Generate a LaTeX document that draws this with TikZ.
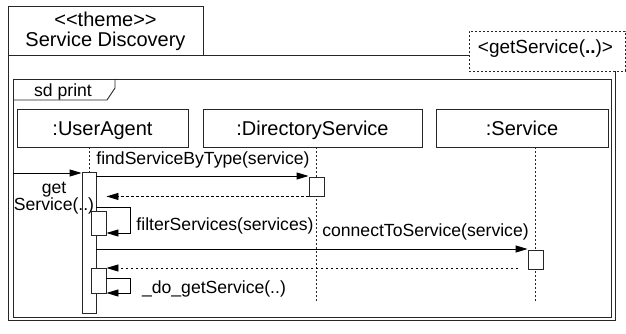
\documentclass[tikz,border=0pt]{standalone}
\usepackage{fontspec}
\setmainfont{Liberation Sans}
\usetikzlibrary{arrows.meta}
\begin{document}
\begin{tikzpicture}[x=1pt,y=-1pt,
  frame/.style={draw=black!85, line width=0.9pt},
  headbox/.style={draw=black!85, line width=0.9pt, fill=white, inner sep=0pt,
    minimum height=38pt, text height=19pt, text depth=4pt,
    font=\fontsize{20}{22}\selectfont},
  actbar/.style={draw=black!85, line width=0.9pt, fill=white, inner sep=0pt},
  lifeline/.style={draw=black!85, line width=0.8pt, dash pattern=on 2pt off 2pt},
  msg/.style={draw=black, line width=0.9pt, -{Triangle[length=12pt,width=7pt]}},
  ret/.style={msg, dash pattern=on 2.5pt off 2.5pt},
  lbl/.style={inner sep=0pt, anchor=base, font=\fontsize{17.6}{19}\selectfont},
  ttl/.style={inner sep=0pt, anchor=base, font=\fontsize{20}{22}\selectfont},
]
\useasboundingbox (0,0) rectangle (626,334);

% theme package frame with its tab
\draw[frame] (8,55) -- (8,6) -- (203,6) -- (203,55);
\draw[frame] (8,55) -- (469,55);
\draw[frame] (8,55) -- (8,320) -- (615.5,320) -- (615.5,71);
\node[ttl] (theme) at (105.5,27) {<\kern0pt<theme>\kern0pt>};
\node[ttl] (pkgname) at (105.5,47) {Service Discovery};

% template parameter box
\node[draw=black!85, line width=0.8pt, dash pattern=on 2pt off 2pt, fill=white,
  inner sep=0pt, minimum width=156pt, minimum height=40pt, anchor=north west]
  (param) at (469,31) {};
\node[inner sep=0pt, anchor=base, font=\fontsize{19}{21}\selectfont] (paramtxt)
  at (545.5,54) {<getService(\textbf{..})>};

% interaction frame
\draw[frame] (13,79) rectangle (611,317);
\draw[frame] (13,100) -- (107,100) -- (115,88) -- (115,79);
\node[lbl] (sd) at (63,96.5) {sd print};

% lifeline heads
\node[headbox, minimum width=171pt] (ua) at (102.5,128) {:UserAgent};
\node[headbox, minimum width=219pt] (ds) at (312.5,128) {:DirectoryService};
\node[headbox, minimum width=172pt] (sv) at (522,128) {:Service};

% activations
\node[actbar, minimum width=14pt, minimum height=141pt] (act0) at (89,242.5) {};
\node[actbar, minimum width=15pt, minimum height=24pt] (act1) at (98.5,223) {};
\node[actbar, minimum width=15pt, minimum height=25pt] (act2) at (98.5,280.5) {};

% lifelines
\coordinate (dsend) at (316.5,303);
\coordinate (svend) at (535.5,303);
\draw[lifeline] (act0.north |- ua.south) -- (act0.north);
\draw[lifeline] (dsend |- ds.south) -- (dsend);
\draw[lifeline] (svend |- sv.south) -- (svend);

\node[actbar, minimum width=15pt, minimum height=19pt] (dsact) at (316.5,186.5) {};
\node[actbar, minimum width=15pt, minimum height=19pt] (svact) at (535.5,259.5) {};

% message levels
\coordinate (gate) at (13,173);
\coordinate (m1) at (0,176);
\coordinate (s1a) at (130,207);
\coordinate (s1b) at (130,233);
\coordinate (m2) at (0,249);
\coordinate (r2) at (518,268);
\coordinate (s2a) at (130,278);
\coordinate (s2b) at (130,293);

% messages
\draw[msg] (gate) -- (act0.west |- gate);
\draw[msg] (act0.east |- m1) -- (dsact.west |- m1);
\draw[ret] (dsact.south west) -- (act1.east |- dsact.south);
\draw[msg] (act0.east |- s1a) -- (s1a) -- (s1b) -- (act1.east |- s1b);
\draw[msg] (act0.east |- m2) -- (svact.west |- m2);
\draw[ret] (r2) -- (act2.east |- r2);
\draw[msg] (act2.east |- s2a) -- (s2a) -- (s2b) -- (act2.east |- s2b);

% message labels
\node[lbl] (gl1) at (54,193.5) {get};
\node[lbl] (gl2) at (54,210.5) {Service(..)};
\node[lbl] (l1) at (203,164.5) {findServiceByType(service)};
\node[lbl] (l2) at (225,230) {filterServices(services)};
\node[lbl] (l3) at (425.5,236.5) {connectToService(service)};
\node[lbl] (l4) at (214,293) {\_do\_getService(..)};
\end{tikzpicture}
\end{document}
